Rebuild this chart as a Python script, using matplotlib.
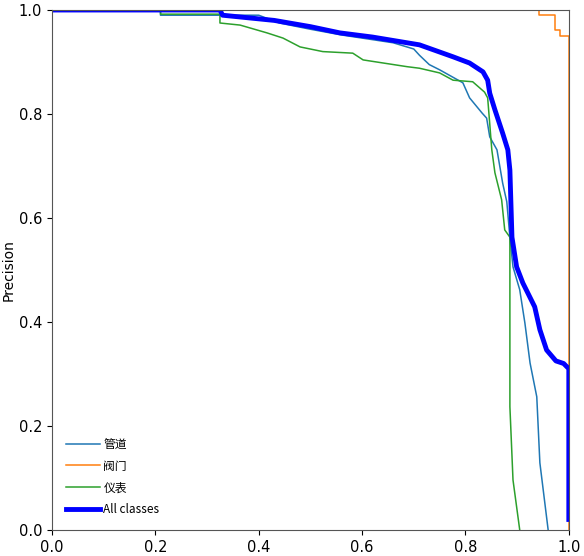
import matplotlib
matplotlib.use("Agg")
import matplotlib.pyplot as plt

# ── PR curve data ─────────────────────────────────────────────────────────────
pipe_recall = [0.0, 0.21, 0.21, 0.40, 0.44, 0.50, 0.56, 0.62, 0.66, 0.70, 0.711, 0.73,
               0.75, 0.795, 0.808, 0.832, 0.841, 0.847, 0.861, 0.872, 0.88, 0.886,
               0.892, 0.905, 0.915, 0.925, 0.938, 0.944, 0.96]
pipe_prec   = [1.0, 1.0, 0.99, 0.99, 0.975, 0.963, 0.952, 0.943, 0.937, 0.925, 0.913, 0.895,
               0.885, 0.86, 0.831, 0.802, 0.792, 0.756, 0.731, 0.667, 0.631, 0.563,
               0.506, 0.462, 0.398, 0.321, 0.256, 0.129, 0.0]

valve_recall = [0.0, 0.942, 0.942, 0.973, 0.973, 0.983, 0.983, 1.0, 1.0]
valve_prec   = [1.0, 1.0, 0.99, 0.99, 0.962, 0.962, 0.95, 0.95, 0.0]

meter_recall = [0.0, 0.21, 0.21, 0.325, 0.325, 0.364, 0.416, 0.447, 0.48, 0.524, 0.582,
                0.602, 0.687, 0.711, 0.75, 0.776, 0.814, 0.837, 0.843, 0.851, 0.857,
                0.87, 0.876, 0.886, 0.886, 0.892, 0.905]
meter_prec   = [1.0, 1.0, 0.992, 0.992, 0.975, 0.971, 0.956, 0.946, 0.929, 0.92, 0.917,
                0.904, 0.891, 0.888, 0.879, 0.865, 0.862, 0.842, 0.831, 0.731, 0.687,
                0.635, 0.577, 0.563, 0.237, 0.096, 0.0]

all_recall = [0.0, 0.325, 0.33, 0.43, 0.50, 0.557, 0.62, 0.711, 0.776, 0.808, 0.834, 0.843,
              0.847, 0.857, 0.872, 0.882, 0.886, 0.89, 0.899, 0.911, 0.934, 0.944, 0.957,
              0.975, 0.99, 1.0, 1.0]
all_prec   = [1.0, 1.0, 0.99, 0.98, 0.968, 0.956, 0.948, 0.933, 0.91, 0.898, 0.881, 0.865,
              0.84, 0.808, 0.763, 0.731, 0.692, 0.563, 0.506, 0.475, 0.429, 0.385, 0.346,
              0.325, 0.32, 0.31, 0.02]

labels = ["管道", "阀门", "仪表", "All classes"]

plt.rcParams["font.family"] = ["DejaVu Sans"]

fig = plt.figure(figsize=(5.84, 5.56), dpi=100)
ax = fig.add_axes([0.089, 0.047, 0.885, 0.935])

ax.plot(pipe_recall, pipe_prec, color="#1f77b4", linewidth=1.1, label=labels[0])
ax.plot(valve_recall, valve_prec, color="#ff7f0e", linewidth=1.1, label=labels[1])
ax.plot(meter_recall, meter_prec, color="#2ca02c", linewidth=1.1, label=labels[2])
ax.plot(all_recall, all_prec, color="blue", linewidth=3.5, label=labels[3])

ax.set_xlim(0, 1)
ax.set_ylim(0, 1)
ax.set_ylabel("Precision", fontsize=10, labelpad=2)
ax.tick_params(labelsize=10.5)
for spine in ax.spines.values():
    spine.set_edgecolor("#555555")

ax.legend(loc="lower left", frameon=False,
          prop={"family": ["Noto Sans CJK SC", "DejaVu Sans"], "size": 8.5},
          handlelength=2.9, handletextpad=0.3, labelspacing=0.75, borderaxespad=0.75)

fig.savefig("out.png", dpi=100)
